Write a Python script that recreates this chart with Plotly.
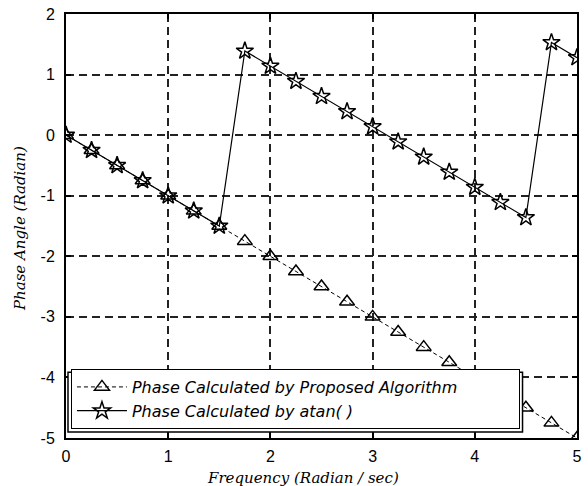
import plotly.graph_objects as go

freq = [0, 0.25, 0.5, 0.75, 1.0, 1.25, 1.5, 1.75, 2.0, 2.25, 2.5, 2.75, 3.0,
        3.25, 3.5, 3.75, 4.0, 4.25, 4.5, 4.75, 5.0]
phase_proposed = [0, -0.25, -0.5, -0.75, -1.0, -1.25, -1.5, -1.75, -2.0, -2.25,
                  -2.5, -2.75, -3.0, -3.25, -3.5, -3.75, -4.0, -4.25, -4.5, -4.75, -5.0]
phase_atan = [0, -0.25, -0.5, -0.75, -1.0, -1.25, -1.5, 1.39, 1.14, 0.89, 0.64,
              0.39, 0.14, -0.11, -0.36, -0.61, -0.86, -1.11, -1.36, 1.53, 1.28]
x_ticks = [0, 1, 2, 3, 4, 5]
y_ticks = [2, 1, 0, -1, -2, -3, -4, -5]

fig = go.Figure()
fig.add_trace(go.Scatter(
    x=freq, y=phase_proposed, mode="lines+markers",
    name="Phase Calculated by Proposed Algorithm",
    line=dict(color="black", width=1, dash="4px,3px"),
    marker=dict(symbol="triangle-up-open", size=13, color="black", line=dict(width=1.5)),
))
fig.add_trace(go.Scatter(
    x=freq, y=phase_atan, mode="lines+markers",
    name="Phase Calculated by atan( )",
    line=dict(color="black", width=1.2),
    marker=dict(symbol="star-open", size=13, color="black", line=dict(width=1.5)),
))

axis_common = dict(
    showline=True, linecolor="black", linewidth=2, mirror="ticks",
    ticks="inside", ticklen=5, tickcolor="black", tickwidth=1.5,
    showgrid=True, gridcolor="#222", gridwidth=1.5, griddash="8px,5px",
    zeroline=False,
    tickfont=dict(family="Liberation Sans", size=16, color="black"),
)
fig.update_xaxes(range=[0, 5], tickvals=x_ticks, ticktext=[str(v) for v in x_ticks],
                 ticklabelstandoff=3, **axis_common)
fig.update_yaxes(range=[-5, 2], tickvals=y_ticks, ticktext=[str(v) for v in y_ticks],
                 ticklabelstandoff=6, **axis_common)

fig.add_annotation(text="Frequency (Radian / sec)", xref="paper", yref="paper",
                   x=0.463, y=-0.094, showarrow=False, xanchor="center", yanchor="middle",
                   font=dict(family="DejaVu Serif", size=15, style="italic", color="black"))
fig.add_annotation(text="Phase Angle (Radian)", xref="paper", yref="paper",
                   x=-0.091, y=0.494, showarrow=False, textangle=-90,
                   xanchor="center", yanchor="middle",
                   font=dict(family="DejaVu Serif", size=15, style="italic", color="black"))

# outer frame of the double-bordered legend box
fig.add_shape(type="rect", xref="paper", yref="paper",
              x0=0.0039, x1=0.8934, y0=0.0141, y1=0.1553,
              line=dict(color="black", width=1.5), fillcolor="white", layer="above")

fig.update_layout(
    width=588, height=486,
    margin=dict(l=66, r=6, t=13, b=48),
    paper_bgcolor="white", plot_bgcolor="white",
    showlegend=True,
    legend=dict(x=0.0097, y=0.0212, xanchor="left", yanchor="bottom",
                orientation="h", entrywidth=382, entrywidthmode="pixels",
                bgcolor="white", bordercolor="black", borderwidth=1,
                font=dict(family="DejaVu Sans", size=16, style="italic", color="black"),
                itemwidth=50, tracegroupgap=0),
)

fig.write_html("out.html")
